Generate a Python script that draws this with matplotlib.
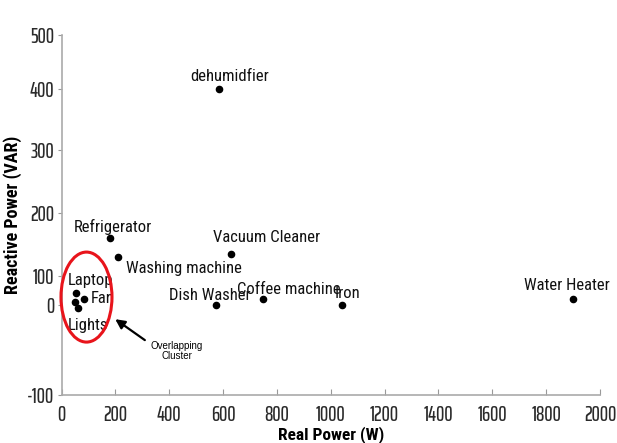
"""
Appliance signatures: real vs reactive power scatter
"""

import numpy as np
import matplotlib.pyplot as plt
from matplotlib.patches import Ellipse

# ----------------------------------------------------------
# 1. Data
# ----------------------------------------------------------
names = ["dehumidfier", "Refrigerator", "Washing machine", "Vacuum Cleaner",
         "Dish Washer", "Coffee machine", "Iron", "Water Heater",
         "Laptop", "Fan", "Lights", ""]
real_power = [585, 180, 210, 630, 575, 750, 1040, 1900, 54, 84, 50, 61]
reactive_power = [400, 160, 130, 135, 0, 20, 0, 20, 40, 20, 12, -3]

x_ticks = list(range(0, 2001, 200))
y_ticks = list(range(-100, 501, 100))

# label offsets (points) relative to each dot
offsets = [(-21, 9), (-26, 8), (6, -8), (-13, 11.5), (-34, 6.5), (-19, 7),
           (-5, 8.5), (-35, 10), (-6, 9.5), (4.5, 0.5), (-5, -17), (0, 0)]

# the source figure's y axis is not evenly spaced: piecewise mapping
y_vals = [-100, 0, 100, 200, 300, 400, 500]
y_pos = [0, 90, 119, 182, 245, 306, 360]


def fwd(v):
    return np.interp(v, y_vals, y_pos)


def inv(p):
    return np.interp(p, y_pos, y_vals)


# ----------------------------------------------------------
# 2. Plot
# ----------------------------------------------------------
narrow = ["Roboto Condensed", "DejaVu Sans"]
ticks_font = ["Saira ExtraCondensed", "DejaVu Sans"]

fig = plt.figure(figsize=(6.17, 4.43), dpi=100)
ax = fig.add_axes([61.5 / 617, 48 / 443, 538.5 / 617, 360 / 443])

ax.set_yscale("function", functions=(fwd, inv))
ax.scatter(real_power, reactive_power, s=20, color="black", zorder=3)

for name, x, y, off in zip(names, real_power, reactive_power, offsets):
    if name:
        ax.annotate(name, (x, y), xytext=off, textcoords="offset points",
                    ha="left", va="center", fontsize=12, family=narrow,
                    color="#111111")

ax.set_xlim(0, 2000)
ax.set_ylim(-100, 500)
ax.set_xticks(x_ticks)
ax.set_yticks(y_ticks)
ax.set_xticklabels([str(t) for t in x_ticks], family=ticks_font, fontsize=15,
                   fontweight="medium", color="#2a2a2a")
ax.set_yticklabels([str(t) for t in y_ticks], family=ticks_font, fontsize=15,
                   fontweight="medium", color="#2a2a2a")
ax.tick_params(axis="x", direction="in", length=4, color="#999999", pad=7)
ax.tick_params(axis="y", direction="out", length=3, color="#999999", pad=2)

for side in ["top", "right"]:
    ax.spines[side].set_visible(False)
for side in ["left", "bottom"]:
    ax.spines[side].set_color("#aaaaaa")
    ax.spines[side].set_linewidth(1.2)

ax.set_xlabel("Real Power (W)", family=narrow, fontweight="bold",
              fontsize=12.5, labelpad=1)
ax.set_ylabel("Reactive Power (VAR)", family=narrow, fontweight="bold",
              fontsize=13, labelpad=4)

# overlapping cluster highlight
ax.add_patch(Ellipse((0.0464, 0.272), 0.0947, 0.25, transform=ax.transAxes,
                     fill=False, edgecolor="#e8141b", linewidth=2.2,
                     clip_on=False, zorder=4))
ax.annotate("", xy=(0.0956, 0.215), xytext=(0.159, 0.148),
            xycoords="axes fraction", textcoords="axes fraction",
            arrowprops=dict(arrowstyle="-|>", color="black", lw=1.6,
                            mutation_scale=14))
ax.text(0.2145, 0.122, "Overlapping\nCluster", transform=ax.transAxes,
        ha="center", va="center", fontsize=7, family="Liberation Sans",
        multialignment="center", linespacing=1.1)

fig.savefig("out.png", dpi=100)
